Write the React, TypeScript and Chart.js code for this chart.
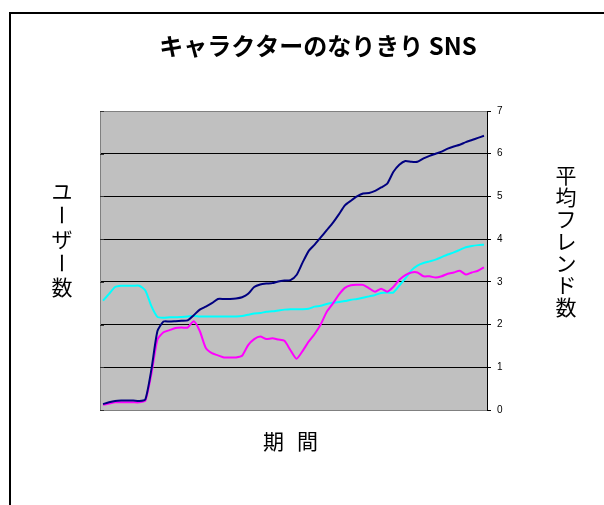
import React, { useEffect, useRef } from "react";
import { Chart, registerables } from "chart.js";
Chart.register(...registerables);

const TITLE = "キャラクターのなりきり SNS";
const X_TITLE = ["期", "間"];
const LEFT_TITLE = ["ユ", "ー", "ザ", "ー", "数"];
const RIGHT_TITLE = ["平", "均", "フ", "レ", "ン", "ド", "数"];

const periods = [
  "1", "2", "3", "4", "5", "6", "7", "8", "9", "10", "11", "12", "13", "14", "15", "16",
  "17", "18", "19", "20", "21", "22", "23", "24", "25", "26", "27", "28", "29", "30", "31", "32",
  "33", "34", "35", "36", "37", "38", "39", "40", "41", "42", "43", "44", "45", "46", "47", "48",
  "49", "50", "51", "52", "53", "54", "55", "56", "57", "58", "59", "60", "61", "62", "63", "64",
];

const yTicks = [0, 1, 2, 3, 4, 5, 6, 7];

const users = [
  0.14, 0.18, 0.21, 0.22, 0.22, 0.22, 0.21, 0.25, 0.95, 1.85, 2.07, 2.07, 2.08, 2.09, 2.1, 2.22,
  2.35, 2.42, 2.5, 2.6, 2.6, 2.6, 2.61, 2.64, 2.72, 2.88, 2.94, 2.96, 2.97, 3.01, 3.03, 3.04,
  3.16, 3.45, 3.72, 3.87, 4.04, 4.21, 4.38, 4.58, 4.79, 4.9, 5.0, 5.07, 5.08, 5.13, 5.21, 5.3,
  5.57, 5.74, 5.83, 5.81, 5.81, 5.89, 5.95, 6.0, 6.05, 6.12, 6.17, 6.21, 6.27, 6.32, 6.37, 6.42,
];

const friendsA = [
  0.12, 0.15, 0.18, 0.18, 0.18, 0.18, 0.18, 0.22, 0.85, 1.65, 1.82, 1.87, 1.92, 1.93, 1.93, 2.08,
  1.85, 1.45, 1.33, 1.28, 1.23, 1.23, 1.23, 1.27, 1.52, 1.66, 1.72, 1.66, 1.68, 1.65, 1.62, 1.4,
  1.2, 1.38, 1.6, 1.78, 2.0, 2.3, 2.49, 2.7, 2.86, 2.92, 2.93, 2.93, 2.85, 2.77, 2.84, 2.77,
  2.88, 3.05, 3.16, 3.22, 3.22, 3.13, 3.13, 3.1, 3.13, 3.19, 3.22, 3.26, 3.17, 3.22, 3.26, 3.34,
];

const friendsB = [
  2.56, 2.72, 2.88, 2.91, 2.91, 2.91, 2.91, 2.8, 2.43, 2.18, 2.16, 2.17, 2.17, 2.18, 2.19, 2.2,
  2.19, 2.19, 2.19, 2.19, 2.19, 2.19, 2.19, 2.2, 2.23, 2.26, 2.27, 2.3, 2.31, 2.33, 2.35, 2.36,
  2.36, 2.36, 2.37, 2.42, 2.44, 2.48, 2.51, 2.53, 2.55, 2.58, 2.6, 2.63, 2.66, 2.69, 2.74, 2.75,
  2.75, 2.91, 3.08, 3.27, 3.38, 3.44, 3.48, 3.52, 3.58, 3.64, 3.69, 3.75, 3.81, 3.84, 3.86, 3.87,
];

const JP = '"Noto Sans CJK JP", "Noto Sans", sans-serif';

const decorPlugin = {
  id: "decor",
  beforeDraw(chart: any) {
    const { ctx, chartArea } = chart;
    const { left, top, right, bottom } = chartArea;
    ctx.save();
    ctx.fillStyle = "#C0C0C0";
    ctx.fillRect(left, top, right - left, bottom - top);
    ctx.strokeStyle = "#000";
    ctx.lineWidth = 2;
    ctx.strokeRect(10, 13, 800, 800);
    ctx.restore();
  },
  beforeDatasetsDraw(chart: any) {
    const { ctx, chartArea, scales } = chart;
    const { left, top, bottom } = chartArea;
    ctx.save();
    ctx.strokeStyle = "#808080";
    ctx.lineWidth = 1;
    ctx.beginPath();
    ctx.moveTo(left + 0.5, top);
    ctx.lineTo(left + 0.5, bottom);
    ctx.stroke();
    ctx.strokeStyle = "#333";
    ctx.beginPath();
    yTicks.forEach((v) => {
      const y = Math.round(scales.y.getPixelForValue(v)) + 0.5;
      ctx.moveTo(left, y);
      ctx.lineTo(left + 4, y);
    });
    ctx.stroke();
    ctx.restore();
  },
  afterDraw(chart: any) {
    const { ctx, chartArea } = chart;
    const { left, right } = chartArea;
    ctx.save();
    ctx.fillStyle = "#000";
    ctx.textAlign = "center";
    ctx.textBaseline = "middle";
    ctx.font = `bold 24px ${JP}`;
    ctx.fillText(TITLE, 318, 46);
    ctx.font = `21px ${JP}`;
    const cx = (left + right) / 2 - 3;
    ctx.fillText(X_TITLE[0], cx - 17, 441);
    ctx.fillText(X_TITLE[1], cx + 17, 441);
    const drawStack = (chars: string[], x: number, y0: number, step: number) => {
      chars.forEach((c, i) => {
        const y = y0 + i * step;
        if (c === "ー") {
          ctx.save();
          ctx.translate(x, y);
          ctx.rotate(Math.PI / 2);
          ctx.fillText(c, 0, 0);
          ctx.restore();
        } else {
          ctx.fillText(c, x, y);
        }
      });
    };
    drawStack(LEFT_TITLE, 62, 191, 24);
    drawStack(RIGHT_TITLE, 566, 175, 22);
    ctx.restore();
  },
};

export default function App() {
  const ref = useRef<HTMLCanvasElement | null>(null);
  useEffect(() => {
    if (!ref.current) return;
    const chart = new Chart(ref.current, {
      type: "line",
      data: {
        labels: periods,
        datasets: [
          { label: "ユーザー数", data: users, borderColor: "#000080", borderWidth: 2, pointRadius: 0, tension: 0.2, fill: false },
          { label: "平均フレンド数A", data: friendsA, borderColor: "#FF00FF", borderWidth: 2, pointRadius: 0, tension: 0.2, fill: false },
          { label: "平均フレンド数B", data: friendsB, borderColor: "#00FFFF", borderWidth: 2, pointRadius: 0, tension: 0.2, fill: false },
        ],
      },
      options: {
        responsive: false,
        animation: false,
        layout: { padding: { left: 100, top: 111, right: 0, bottom: 95 } },
        plugins: { legend: { display: false }, tooltip: { enabled: false }, title: { display: false } },
        scales: {
          x: { type: "category", offset: true, display: false },
          y: {
            position: "right",
            min: yTicks[0],
            max: yTicks[yTicks.length - 1],
            ticks: { stepSize: 1, color: "#000", font: { family: "Liberation Sans", size: 10 }, padding: 6 },
            grid: {
              color: (c: any) => (c.tick && (c.tick.value === yTicks[0] || c.tick.value === yTicks[yTicks.length - 1]) ? "#808080" : "#000"),
              tickColor: "#000",
              tickLength: 4,
              lineWidth: 1,
            },
            border: { display: true, color: "#000", width: 1 },
            afterFit: (s: any) => { s.width = 117; },
          },
        },
      },
      plugins: [decorPlugin],
    });
    return () => chart.destroy();
  }, []);
  return (
    <div style={{ position: "absolute", left: 0, top: 0, width: 604, height: 505 }}>
      <canvas ref={ref} width={604} height={505} style={{ display: "block" }} />
    </div>
  );
}
